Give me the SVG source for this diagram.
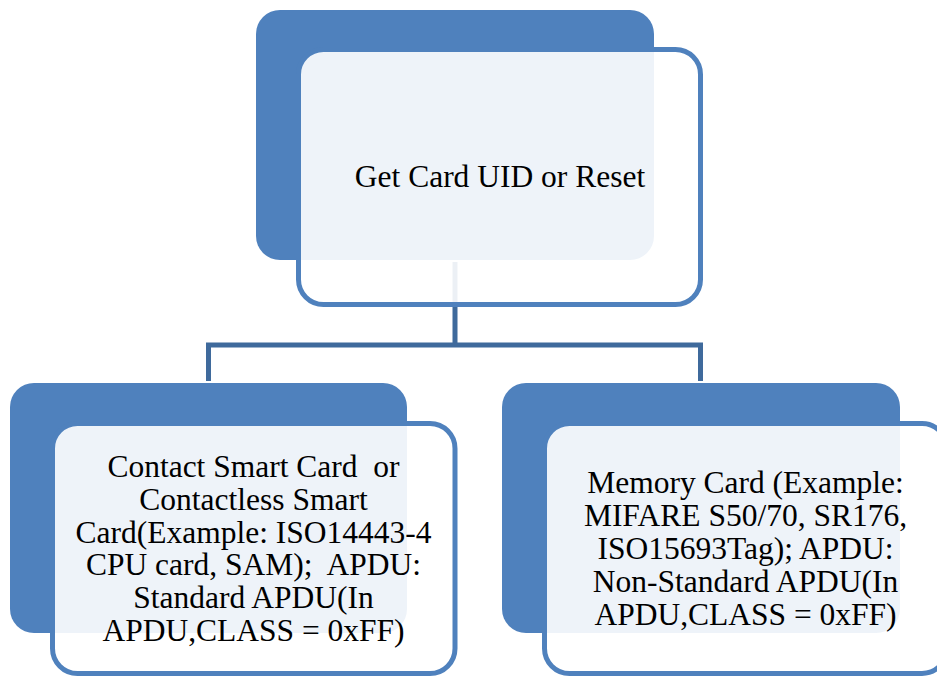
<svg xmlns="http://www.w3.org/2000/svg" width="937" height="677" viewBox="0 0 937 677">
<style>
.back{fill:#4F81BD;}
.front{fill:#FFFFFF;fill-opacity:0.9;stroke:#4F81BD;stroke-width:5;}
.conn{fill:none;stroke:#3F6A9C;stroke-width:5;}
text{font-size:31.5px;fill:#000;text-anchor:middle;white-space:pre;}
</style>
<rect width="937" height="677" fill="#FFFFFF"/>
<g id="connectors">
<path class="conn" d="M455,262 V345 M208.5,381 V345 H700.5 V381"/>
</g>
<g id="node-root" font-family="Liberation Serif, Times New Roman, serif">
<rect class="back" x="256" y="10" width="398" height="250" rx="24"/>
<rect class="front" x="298.5" y="49.5" width="402" height="255" rx="25"/>
<text x="500" y="187">Get Card UID or Reset</text>
</g>
<g id="node-contact" font-family="Liberation Serif, Times New Roman, serif">
<rect class="back" x="10" y="383" width="397" height="250" rx="24"/>
<rect class="front" x="52.5" y="423.5" width="402.5" height="250" rx="25"/>
<text x="253.5" y="477">Contact Smart Card  or</text>
<text x="253.5" y="510">Contactless Smart</text>
<text x="253.5" y="543">Card(Example: ISO14443-4</text>
<text x="253.5" y="575">CPU card, SAM);  APDU:</text>
<text x="253.5" y="608">Standard APDU(In</text>
<text x="253.5" y="641">APDU,CLASS = 0xFF)</text>
</g>
<g id="node-memory" font-family="Liberation Serif, Times New Roman, serif">
<rect class="back" x="502" y="383" width="398" height="250" rx="24"/>
<rect class="front" x="544.5" y="423.5" width="402.5" height="250" rx="25"/>
<text x="745.5" y="493">Memory Card (Example:</text>
<text x="745.5" y="526">MIFARE S50/70, SR176,</text>
<text x="745.5" y="559">ISO15693Tag); APDU:</text>
<text x="745.5" y="592">Non-Standard APDU(In</text>
<text x="745.5" y="625">APDU,CLASS = 0xFF)</text>
</g>
</svg>
